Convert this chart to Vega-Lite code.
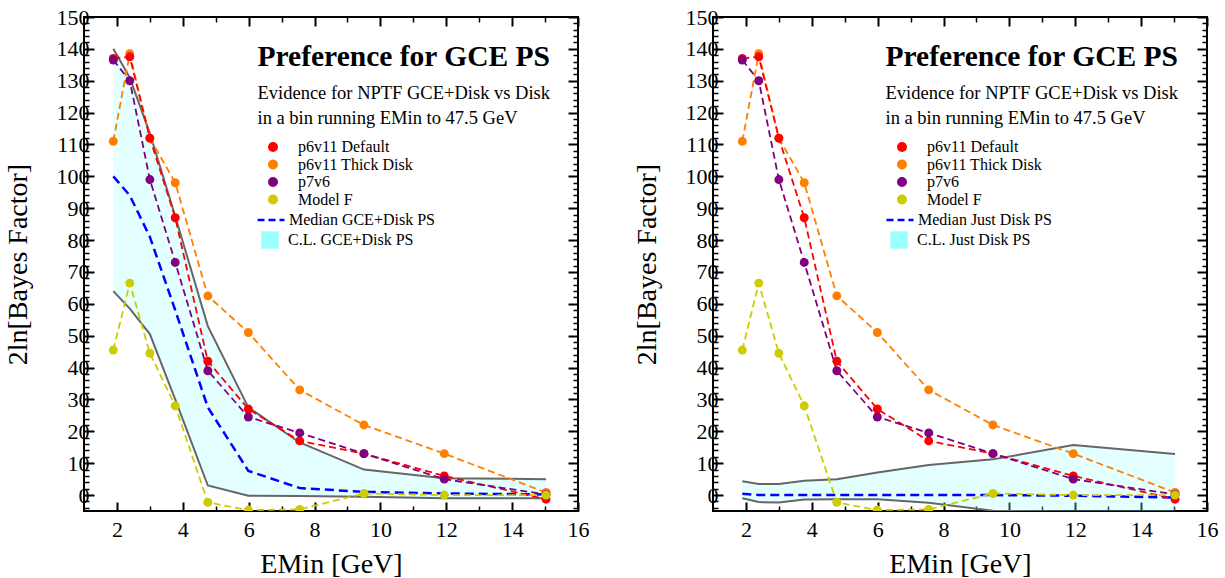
{
  "$schema": "https://vega.github.io/schema/vega-lite/v6.json",
  "padding": {"left": 3, "top": 5, "right": 0, "bottom": 0},
  "spacing": 42,
  "background": "white",
  "config": {
    "view": {"stroke": "black", "strokeWidth": 2},
    "font": "Liberation Serif",
    "axis": {"grid": false, "domain": false, "labelFont": "Liberation Serif", "labelFontSize": 22, "labelColor": "black", "tickColor": "black", "titleFont": "Liberation Serif", "titleFontSize": 28, "titleFontWeight": "normal", "titleColor": "black", "labelFlush": false, "labelOverlap": false},
    "legend": {"labelFont": "Liberation Serif", "labelFontSize": 16, "labelColor": "black", "padding": 0, "offset": 0}
  },
  "datasets": {
    "series": [
      {"s": "p6v11 Thick Disk", "e": 1.89, "v": 111}, {"s": "p6v11 Thick Disk", "e": 2.39, "v": 138.5}, {"s": "p6v11 Thick Disk", "e": 3.0, "v": 112}, {"s": "p6v11 Thick Disk", "e": 3.77, "v": 98}, {"s": "p6v11 Thick Disk", "e": 4.76, "v": 62.5}, {"s": "p6v11 Thick Disk", "e": 5.99, "v": 51}, {"s": "p6v11 Thick Disk", "e": 7.55, "v": 33}, {"s": "p6v11 Thick Disk", "e": 9.5, "v": 22}, {"s": "p6v11 Thick Disk", "e": 11.94, "v": 13}, {"s": "p6v11 Thick Disk", "e": 15.03, "v": 0.8},
      {"s": "p6v11 Default", "e": 1.89, "v": 137}, {"s": "p6v11 Default", "e": 2.39, "v": 137.5}, {"s": "p6v11 Default", "e": 3.0, "v": 112}, {"s": "p6v11 Default", "e": 3.77, "v": 87}, {"s": "p6v11 Default", "e": 4.76, "v": 42}, {"s": "p6v11 Default", "e": 5.99, "v": 27}, {"s": "p6v11 Default", "e": 7.55, "v": 17}, {"s": "p6v11 Default", "e": 9.5, "v": 13}, {"s": "p6v11 Default", "e": 11.94, "v": 6}, {"s": "p6v11 Default", "e": 15.03, "v": -1.3},
      {"s": "p7v6", "e": 1.89, "v": 136.5}, {"s": "p7v6", "e": 2.39, "v": 130}, {"s": "p7v6", "e": 3.0, "v": 99}, {"s": "p7v6", "e": 3.77, "v": 73}, {"s": "p7v6", "e": 4.76, "v": 39}, {"s": "p7v6", "e": 5.99, "v": 24.5}, {"s": "p7v6", "e": 7.55, "v": 19.5}, {"s": "p7v6", "e": 9.5, "v": 13}, {"s": "p7v6", "e": 11.94, "v": 5}, {"s": "p7v6", "e": 15.03, "v": 0.2},
      {"s": "Model F", "e": 1.89, "v": 45.5}, {"s": "Model F", "e": 2.39, "v": 66.5}, {"s": "Model F", "e": 3.0, "v": 44.5}, {"s": "Model F", "e": 3.77, "v": 28}, {"s": "Model F", "e": 4.76, "v": -2.3}, {"s": "Model F", "e": 5.99, "v": -4.7}, {"s": "Model F", "e": 7.55, "v": -4.5}, {"s": "Model F", "e": 9.5, "v": 0.5}, {"s": "Model F", "e": 11.94, "v": 0}, {"s": "Model F", "e": 15.03, "v": 0}
    ],
    "bandL": [
      {"e": 1.89, "lo": 64, "hi": 140, "med": 100}, {"e": 2.39, "lo": 58.5, "hi": 131, "med": 94}, {"e": 3.0, "lo": 50.5, "hi": 113.5, "med": 81}, {"e": 3.77, "lo": 30, "hi": 87.5, "med": 58}, {"e": 4.76, "lo": 3, "hi": 53, "med": 27.5}, {"e": 5.99, "lo": -0.2, "hi": 27.5, "med": 7.6}, {"e": 7.55, "lo": -0.3, "hi": 16.5, "med": 2.2}, {"e": 9.5, "lo": -0.5, "hi": 8, "med": 1}, {"e": 11.94, "lo": -1, "hi": 5.3, "med": 0.5}, {"e": 15.03, "lo": -1, "hi": 5, "med": 0.2}
    ],
    "bandR": [
      {"e": 1.89, "lo": -1.0, "hi": 4.3, "med": 0.4}, {"e": 2.39, "lo": -2.2, "hi": 3.5, "med": 0}, {"e": 3.0, "lo": -2.3, "hi": 3.5, "med": 0}, {"e": 3.77, "lo": -1.4, "hi": 4.5, "med": 0}, {"e": 4.76, "lo": -1.3, "hi": 5, "med": 0}, {"e": 5.99, "lo": -1.3, "hi": 7.1, "med": 0}, {"e": 7.55, "lo": -2.4, "hi": 9.4, "med": 0}, {"e": 9.5, "lo": -4.9, "hi": 11.2, "med": 0}, {"e": 11.94, "lo": -5.3, "hi": 15.7, "med": -0.2}, {"e": 15.03, "lo": -5.5, "hi": 12.9, "med": -0.8}
    ]
  },
  "hconcat": [
    {
      "width": 494, "height": 494,
      "title": {"text": "Preference for GCE PS", "subtitle": ["Evidence for NPTF GCE+Disk vs Disk", "in a bin running EMin to 47.5 GeV"], "anchor": "start", "frame": "group", "orient": "top", "offset": -122, "dx": 173.5, "font": "Liberation Serif", "fontSize": 29.5, "fontWeight": "bold", "color": "black", "subtitleFont": "Liberation Serif", "subtitleFontSize": 18.5, "subtitleColor": "black", "subtitlePadding": 11, "subtitleLineHeight": 25},
      "resolve": {"axis": {"x": "independent", "y": "independent"}, "scale": {"fill": "independent", "stroke": "independent"}},
      "layer": [
        {
          "data": {"name": "bandL"},
          "mark": {"type": "area", "clip": true, "fillOpacity": 0.28},
          "encoding": {
            "x": {"field": "e", "type": "quantitative", "scale": {"domain": [1, 16], "nice": false}, "axis": {"orient": "bottom", "values": [2,4,6,8,10,12,14,16], "tickSize": -9, "tickWidth": 2, "labelPadding": 17, "title": "EMin [GeV]", "titlePadding": 10}},
            "y": {"field": "hi", "type": "quantitative", "scale": {"domain": [-5, 150], "nice": false, "zero": false}, "axis": {"orient": "left", "values": [0,10,20,30,40,50,60,70,80,90,100,110,120,130,140,150], "tickSize": -10, "tickWidth": 2, "labelPadding": 5, "title": "2ln[Bayes Factor]", "titlePadding": 24}},
            "y2": {"field": "lo"},
            "fill": {"datum": "C.L. GCE+Disk PS", "type": "nominal", "scale": {"range": ["#99FFFF"]}, "legend": {"orient": "none", "legendX": 177, "legendY": 214, "title": null, "symbolType": "square", "symbolSize": 300, "symbolOpacity": 1, "symbolStrokeWidth": 0, "labelOffset": 9}}
          }
        },
        {
          "data": {"name": "bandL"},
          "mark": {"type": "line", "clip": true, "stroke": "#666666", "strokeWidth": 2},
          "encoding": {
            "x": {"field": "e", "type": "quantitative", "axis": {"orient": "bottom", "values": [3,5,7,9,11,13,15], "tickSize": -5, "tickWidth": 1.5, "labels": false, "title": null}},
            "y": {"field": "hi", "type": "quantitative", "axis": {"orient": "left", "values": [-4,-2,2,4,6,8,12,14,16,18,22,24,26,28,32,34,36,38,42,44,46,48,52,54,56,58,62,64,66,68,72,74,76,78,82,84,86,88,92,94,96,98,102,104,106,108,112,114,116,118,122,124,126,128,132,134,136,138,142,144,146,148], "tickSize": -5, "tickWidth": 1.5, "labels": false, "title": null}}
          }
        },
        {
          "data": {"name": "bandL"},
          "mark": {"type": "line", "clip": true, "stroke": "#666666", "strokeWidth": 2},
          "encoding": {
            "x": {"field": "e", "type": "quantitative", "axis": {"orient": "top", "values": [2,4,6,8,10,12,14,16], "tickSize": -9, "tickWidth": 2, "labels": false, "title": null}},
            "y": {"field": "lo", "type": "quantitative", "axis": {"orient": "right", "values": [0,10,20,30,40,50,60,70,80,90,100,110,120,130,140,150], "tickSize": -10, "tickWidth": 2, "labels": false, "title": null}}
          }
        },
        {
          "data": {"name": "bandL"},
          "mark": {"type": "line", "clip": true, "strokeDash": [9, 5], "strokeWidth": 2.5},
          "encoding": {
            "x": {"field": "e", "type": "quantitative", "axis": {"orient": "top", "values": [3,5,7,9,11,13,15], "tickSize": -5, "tickWidth": 1.5, "labels": false, "title": null}},
            "y": {"field": "med", "type": "quantitative", "axis": {"orient": "right", "values": [-4,-2,2,4,6,8,12,14,16,18,22,24,26,28,32,34,36,38,42,44,46,48,52,54,56,58,62,64,66,68,72,74,76,78,82,84,86,88,92,94,96,98,102,104,106,108,112,114,116,118,122,124,126,128,132,134,136,138,142,144,146,148], "tickSize": -5, "tickWidth": 1.5, "labels": false, "title": null}},
            "stroke": {"datum": "Median GCE+Disk PS", "type": "nominal", "scale": {"range": ["#0000FF"]}, "legend": {"orient": "none", "legendX": 172, "legendY": 188, "title": null, "symbolType": "stroke", "symbolSize": 729, "symbolDash": [7, 4], "symbolStrokeWidth": 2.5, "labelOffset": 3}}
          }
        },
        {
          "mark": {"type": "rule", "color": "black", "strokeDash": [3, 3], "strokeWidth": 1.5},
          "encoding": {"y": {"datum": 0, "type": "quantitative", "axis": null}}
        },
        {
          "data": {"name": "series"},
          "mark": {"type": "line", "clip": true, "strokeDash": [7, 4], "strokeWidth": 1.8},
          "encoding": {
            "x": {"field": "e", "type": "quantitative", "axis": null},
            "y": {"field": "v", "type": "quantitative", "axis": null},
            "stroke": {"field": "s", "type": "nominal", "scale": {"domain": ["p6v11 Default", "p6v11 Thick Disk", "p7v6", "Model F"], "range": ["#FF0000", "#FF8000", "#800080", "#CCCC00"]}, "legend": null},
            "detail": {"field": "s"}
          }
        },
        {
          "data": {"name": "series"},
          "mark": {"type": "point", "filled": true, "opacity": 1, "size": 80, "clip": true},
          "encoding": {
            "x": {"field": "e", "type": "quantitative", "axis": null},
            "y": {"field": "v", "type": "quantitative", "axis": null},
            "fill": {"field": "s", "type": "nominal", "scale": {"domain": ["p6v11 Default", "p6v11 Thick Disk", "p7v6", "Model F"], "range": ["#FF0000", "#FF8000", "#800080", "#CCCC00"]}, "legend": {"orient": "none", "legendX": 181, "legendY": 122, "title": null, "symbolType": "circle", "symbolSize": 100, "symbolStrokeWidth": 0, "labelOffset": 17, "rowPadding": 1.5}}
          }
        }
      ]
    },
    {
      "width": 494, "height": 494,
      "title": {"text": "Preference for GCE PS", "subtitle": ["Evidence for NPTF GCE+Disk vs Disk", "in a bin running EMin to 47.5 GeV"], "anchor": "start", "frame": "group", "orient": "top", "offset": -122, "dx": 172.5, "font": "Liberation Serif", "fontSize": 29.5, "fontWeight": "bold", "color": "black", "subtitleFont": "Liberation Serif", "subtitleFontSize": 18.5, "subtitleColor": "black", "subtitlePadding": 11, "subtitleLineHeight": 25},
      "resolve": {"axis": {"x": "independent", "y": "independent"}, "scale": {"fill": "independent", "stroke": "independent"}},
      "layer": [
        {
          "data": {"name": "bandR"},
          "mark": {"type": "area", "clip": true, "fillOpacity": 0.28},
          "encoding": {
            "x": {"field": "e", "type": "quantitative", "scale": {"domain": [1, 16], "nice": false}, "axis": {"orient": "bottom", "values": [2,4,6,8,10,12,14,16], "tickSize": -9, "tickWidth": 2, "labelPadding": 17, "title": "EMin [GeV]", "titlePadding": 10}},
            "y": {"field": "hi", "type": "quantitative", "scale": {"domain": [-5, 150], "nice": false, "zero": false}, "axis": {"orient": "left", "values": [0,10,20,30,40,50,60,70,80,90,100,110,120,130,140,150], "tickSize": -10, "tickWidth": 2, "labelPadding": 5, "title": "2ln[Bayes Factor]", "titlePadding": 24}},
            "y2": {"field": "lo"},
            "fill": {"datum": "C.L. Just Disk PS", "type": "nominal", "scale": {"range": ["#99FFFF"]}, "legend": {"orient": "none", "legendX": 177, "legendY": 214, "title": null, "symbolType": "square", "symbolSize": 300, "symbolOpacity": 1, "symbolStrokeWidth": 0, "labelOffset": 9}}
          }
        },
        {
          "data": {"name": "bandR"},
          "mark": {"type": "line", "clip": true, "stroke": "#666666", "strokeWidth": 2},
          "encoding": {
            "x": {"field": "e", "type": "quantitative", "axis": {"orient": "bottom", "values": [3,5,7,9,11,13,15], "tickSize": -5, "tickWidth": 1.5, "labels": false, "title": null}},
            "y": {"field": "hi", "type": "quantitative", "axis": {"orient": "left", "values": [-4,-2,2,4,6,8,12,14,16,18,22,24,26,28,32,34,36,38,42,44,46,48,52,54,56,58,62,64,66,68,72,74,76,78,82,84,86,88,92,94,96,98,102,104,106,108,112,114,116,118,122,124,126,128,132,134,136,138,142,144,146,148], "tickSize": -5, "tickWidth": 1.5, "labels": false, "title": null}}
          }
        },
        {
          "data": {"name": "bandR"},
          "mark": {"type": "line", "clip": true, "stroke": "#666666", "strokeWidth": 2},
          "encoding": {
            "x": {"field": "e", "type": "quantitative", "axis": {"orient": "top", "values": [2,4,6,8,10,12,14,16], "tickSize": -9, "tickWidth": 2, "labels": false, "title": null}},
            "y": {"field": "lo", "type": "quantitative", "axis": {"orient": "right", "values": [0,10,20,30,40,50,60,70,80,90,100,110,120,130,140,150], "tickSize": -10, "tickWidth": 2, "labels": false, "title": null}}
          }
        },
        {
          "data": {"name": "bandR"},
          "mark": {"type": "line", "clip": true, "strokeDash": [9, 5], "strokeWidth": 2.5},
          "encoding": {
            "x": {"field": "e", "type": "quantitative", "axis": {"orient": "top", "values": [3,5,7,9,11,13,15], "tickSize": -5, "tickWidth": 1.5, "labels": false, "title": null}},
            "y": {"field": "med", "type": "quantitative", "axis": {"orient": "right", "values": [-4,-2,2,4,6,8,12,14,16,18,22,24,26,28,32,34,36,38,42,44,46,48,52,54,56,58,62,64,66,68,72,74,76,78,82,84,86,88,92,94,96,98,102,104,106,108,112,114,116,118,122,124,126,128,132,134,136,138,142,144,146,148], "tickSize": -5, "tickWidth": 1.5, "labels": false, "title": null}},
            "stroke": {"datum": "Median Just Disk PS", "type": "nominal", "scale": {"range": ["#0000FF"]}, "legend": {"orient": "none", "legendX": 172, "legendY": 188, "title": null, "symbolType": "stroke", "symbolSize": 729, "symbolDash": [7, 4], "symbolStrokeWidth": 2.5, "labelOffset": 3}}
          }
        },
        {
          "mark": {"type": "rule", "color": "black", "strokeDash": [3, 3], "strokeWidth": 1.5},
          "encoding": {"y": {"datum": 0, "type": "quantitative", "axis": null}}
        },
        {
          "data": {"name": "series"},
          "mark": {"type": "line", "clip": true, "strokeDash": [7, 4], "strokeWidth": 1.8},
          "encoding": {
            "x": {"field": "e", "type": "quantitative", "axis": null},
            "y": {"field": "v", "type": "quantitative", "axis": null},
            "stroke": {"field": "s", "type": "nominal", "scale": {"domain": ["p6v11 Default", "p6v11 Thick Disk", "p7v6", "Model F"], "range": ["#FF0000", "#FF8000", "#800080", "#CCCC00"]}, "legend": null},
            "detail": {"field": "s"}
          }
        },
        {
          "data": {"name": "series"},
          "mark": {"type": "point", "filled": true, "opacity": 1, "size": 80, "clip": true},
          "encoding": {
            "x": {"field": "e", "type": "quantitative", "axis": null},
            "y": {"field": "v", "type": "quantitative", "axis": null},
            "fill": {"field": "s", "type": "nominal", "scale": {"domain": ["p6v11 Default", "p6v11 Thick Disk", "p7v6", "Model F"], "range": ["#FF0000", "#FF8000", "#800080", "#CCCC00"]}, "legend": {"orient": "none", "legendX": 181, "legendY": 122, "title": null, "symbolType": "circle", "symbolSize": 100, "symbolStrokeWidth": 0, "labelOffset": 17, "rowPadding": 1.5}}
          }
        }
      ]
    }
  ]
}
